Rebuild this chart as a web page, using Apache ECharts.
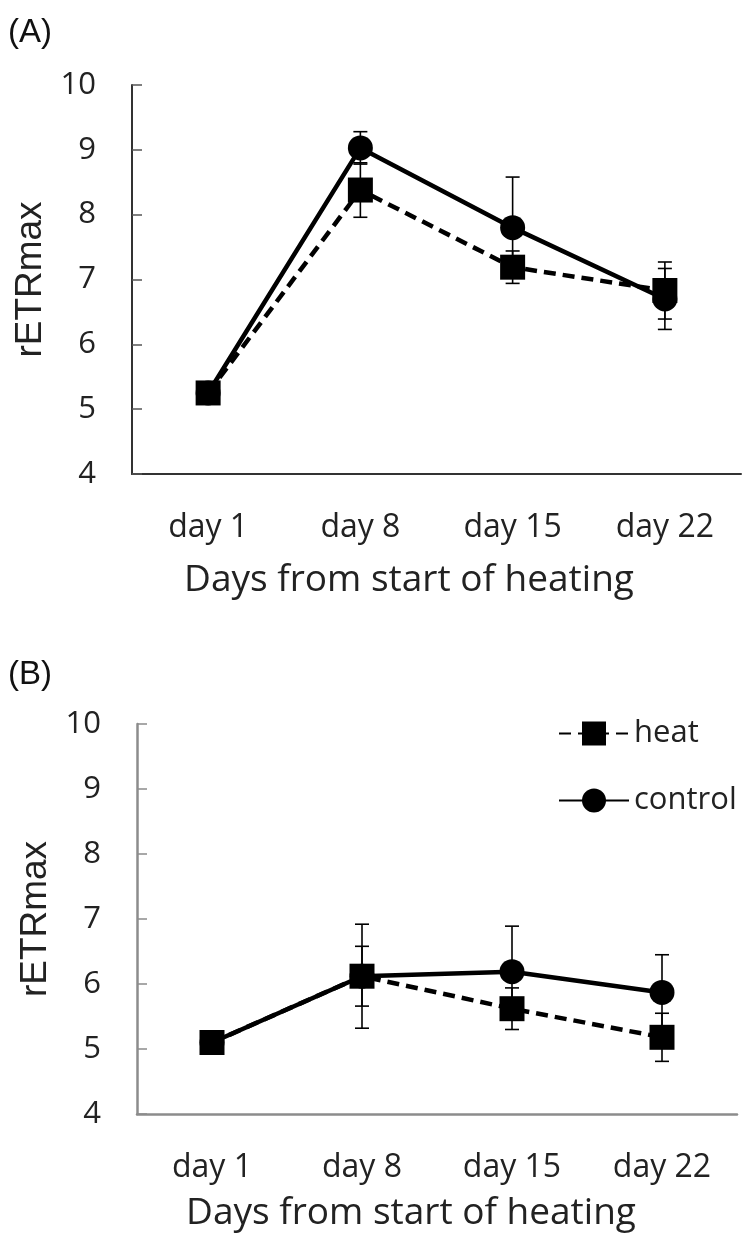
<!DOCTYPE html>
<html><head><meta charset="utf-8">
<script src="https://cdn.jsdelivr.net/npm/echarts@6/dist/echarts.min.js"></script>
<style>html,body{margin:0;padding:0;background:#fff}#c{width:748px;height:1253px}</style>
</head><body><div id="c"></div>
<script>
// ---- data ----
const categories = ['day 1', 'day 8', 'day 15', 'day 22'];
const yTicks = [4, 5, 6, 7, 8, 9, 10];
const seriesNames = ['heat', 'control'];
const panelLabels = ['(A)', '(B)'];
const yTitle = 'rETRmax';
const xTitle = 'Days from start of heating';

const heatA = [5.25, 8.38, 7.19, 6.83];
const heatErrA = [0, 0.42, 0.25, 0.44];
const controlA = [5.25, 9.03, 7.80, 6.70];
const controlErrA = [0, 0.25, 0.78, 0.47];

const heatB = [5.10, 6.12, 5.62, 5.18];
const heatErrB = [0, 0.46, 0.32, 0.37];
const controlB = [5.10, 6.12, 6.19, 5.87];
const controlErrB = [0, 0.80, 0.70, 0.58];

// ---- chart ----
const chart = echarts.init(document.getElementById('c'), null, {renderer: 'canvas'});
const SANS = 'Open Sans';
const ARIAL = 'Liberation Sans';

const axisColors = ['#333', '#8c8c8c'];
const axisWidths = [2, 2.5];

function xAxisCfg(i) {
  return {
    type: 'category', gridIndex: i, data: categories, boundaryGap: true,
    axisLine: {lineStyle: {color: axisColors[i], width: axisWidths[i]}},
    axisTick: {inside: true, length: 10, lineStyle: {color: i === 0 ? '#555' : '#8c8c8c', width: 1.5}},
    axisLabel: {fontFamily: SANS, fontSize: 32, color: '#222', margin: 38}
  };
}
function yAxisCfg(i) {
  return {
    type: 'value', gridIndex: i, min: yTicks[0], max: yTicks[yTicks.length - 1], interval: 1,
    splitLine: {show: false},
    axisLine: {show: true, lineStyle: {color: axisColors[i], width: axisWidths[i]}},
    axisTick: {show: true, inside: true, length: 10, lineStyle: {color: i === 0 ? '#555' : '#8c8c8c', width: 1.5}},
    axisLabel: {fontFamily: SANS, fontSize: 31, color: '#222', margin: 36, padding: [12, 0, 0, 0]},
    name: yTitle, nameLocation: 'middle', nameGap: 62, nameRotate: 90,
    nameTextStyle: {fontFamily: ARIAL, fontSize: 37, color: '#222'}
  };
}

function lineSeries(i, name, vals) {
  const isHeat = name === 'heat';
  return {
    type: 'line', name: name, xAxisIndex: i, yAxisIndex: i, data: vals,
    symbol: isHeat ? 'rect' : 'circle', symbolSize: 25,
    showAllSymbol: true,
    lineStyle: {color: '#000', width: 4.5, type: isHeat ? [12, 7] : 'solid'},
    itemStyle: {color: '#000', borderWidth: 0},
    z: 3, animation: false, silent: true
  };
}

function errSeries(i, means, errs) {
  const data = [];
  means.forEach((m, k) => { if (errs[k] > 0) data.push([k, m - errs[k], m + errs[k]]); });
  return {
    type: 'custom', xAxisIndex: i, yAxisIndex: i, data: data, z: 2, silent: true, animation: false,
    renderItem: function (params, api) {
      const x = api.value(0);
      const lo = api.coord([x, api.value(1)]);
      const hi = api.coord([x, api.value(2)]);
      const w = 7;
      const st = {stroke: '#000', lineWidth: 1.6};
      return {type: 'group', children: [
        {type: 'line', shape: {x1: lo[0], y1: lo[1], x2: hi[0], y2: hi[1]}, style: st},
        {type: 'line', shape: {x1: lo[0] - w, y1: lo[1], x2: lo[0] + w, y2: lo[1]}, style: st},
        {type: 'line', shape: {x1: hi[0] - w, y1: hi[1], x2: hi[0] + w, y2: hi[1]}, style: st}
      ]};
    }
  };
}

const option = {
  backgroundColor: '#fff',
  animation: false,
  grid: [
    {left: 132, top: 85, width: 609, height: 389},
    {left: 137, top: 724, width: 600, height: 390}
  ],
  xAxis: [xAxisCfg(0), xAxisCfg(1)],
  yAxis: [yAxisCfg(0), yAxisCfg(1)],
  legend: {
    data: seriesNames, orient: 'vertical', left: 553, top: 713,
    itemWidth: 70, itemHeight: 30, itemGap: 36, selectedMode: false,
    textStyle: {fontFamily: SANS, fontSize: 31, color: '#222'}
  },
  series: [
    errSeries(0, controlA, controlErrA),
    errSeries(0, heatA, heatErrA),
    lineSeries(0, 'control', controlA),
    lineSeries(0, 'heat', heatA),
    errSeries(1, controlB, controlErrB),
    errSeries(1, heatB, heatErrB),
    lineSeries(1, 'control', controlB),
    lineSeries(1, 'heat', heatB)
  ],
  graphic: [
    {type: 'text', left: 8, top: 16, style: {text: panelLabels[0], font: '33px "Liberation Sans"', fill: '#111'}},
    {type: 'text', left: 8, top: 658, style: {text: panelLabels[1], font: '33px "Liberation Sans"', fill: '#111'}},
    {type: 'text', x: 409, y: 580, style: {text: xTitle, font: '37px "Open Sans"', fill: '#222', textAlign: 'center', textVerticalAlign: 'middle'}},
    {type: 'text', x: 411, y: 1213, style: {text: xTitle, font: '37px "Open Sans"', fill: '#222', textAlign: 'center', textVerticalAlign: 'middle'}}
  ]
};
chart.setOption(option);
</script>
</body></html>
